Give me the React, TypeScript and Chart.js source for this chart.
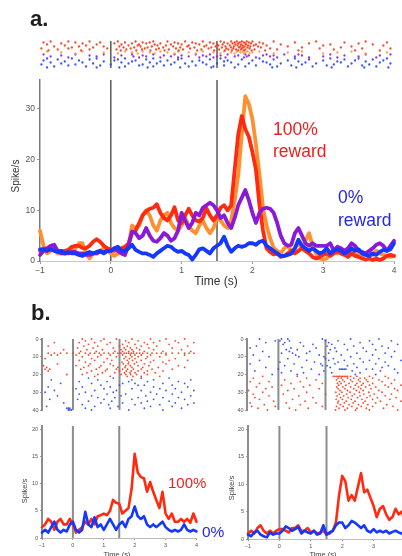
import React, { useEffect, useRef } from "react";
import { Chart, registerables } from "chart.js";

Chart.register(...registerables);

const FONT = "'Liberation Sans', Arial, Helvetica, sans-serif";

// ---------- ticks / events ----------
const X_TICKS = [-1, 0, 1, 2, 3, 4];
const A_Y_TICKS = [0, 10, 20, 30];
const B_Y_TICKS = [0, 5, 10, 15, 20];
const R_Y_TICKS = [0, 10, 20, 30, 40];
const EVENTS = [0, 1.5];

// ---------- panel a: PSTH (0.05 s bins) ----------
const TIMES_A = [
  -1, -0.95, -0.9, -0.85, -0.8, -0.75, -0.7, -0.65, -0.6, -0.55, -0.5, -0.45, -0.4, -0.35, -0.3, -0.25, -0.2, -0.15, -0.1, -0.05,
  0, 0.05, 0.1, 0.15, 0.2, 0.25, 0.3, 0.35, 0.4, 0.45, 0.5, 0.55, 0.6, 0.65, 0.7, 0.75, 0.8, 0.85, 0.9, 0.95,
  1, 1.05, 1.1, 1.15, 1.2, 1.25, 1.3, 1.35, 1.4, 1.45, 1.5, 1.55, 1.6, 1.65, 1.7, 1.75, 1.8, 1.85, 1.9, 1.95,
  2, 2.05, 2.1, 2.15, 2.2, 2.25, 2.3, 2.35, 2.4, 2.45, 2.5, 2.55, 2.6, 2.65, 2.7, 2.75, 2.8, 2.85, 2.9, 2.95,
  3, 3.05, 3.1, 3.15, 3.2, 3.25, 3.3, 3.35, 3.4, 3.45, 3.5, 3.55, 3.6, 3.65, 3.7, 3.75, 3.8, 3.85, 3.9, 3.95,
  4,
];
const A_RED = [
  2, 2.5, 2, 2.5, 2.5, 2, 1.8, 2, 2.2, 2.8, 3, 3, 2.6, 2.5, 3, 3.8, 4.3, 3.8, 3, 2.5,
  2.2, 2, 2.3, 2.5, 2.8, 3.5, 5.5, 6, 7.5, 9, 9.8, 10.3, 10.5, 11.2, 9.5, 8.5, 8, 9, 10.6, 8,
  7.5, 9, 10.3, 9, 8, 7.8, 8.5, 10.4, 9, 8, 9, 10.5, 11, 10, 11, 18, 25, 28.6, 26, 24.5,
  21.5, 18, 11, 6, 2.5, 1.8, 1.3, 1.5, 0.8, 1, 1.5, 2, 1.5, 2, 2.5, 2, 1.5, 0.8, 0.5, 0.8,
  1.2, 1.5, 1, 1.5, 2, 1.5, 1.2, 0.8, 1.5, 1, 0.8, 0.5, 0.3, 0.5, 0.2, 0.5, 0.2, 0.5, 1, 1.2,
  1,
];
const A_ORANGE = [
  6, 3, 1.5, 2, 2.5, 1.5, 1.5, 1.5, 2, 2.5, 2.5, 3.5, 3.5, 1.5, 0.5, 1.5, 1.5, 2, 2.5, 2,
  1.5, 1, 1.5, 2, 2.5, 3, 7, 6.5, 7, 9, 10, 9, 7, 6, 8, 9, 9.5, 7.5, 6.5, 6,
  7, 8.5, 7, 6, 5.5, 7, 8, 6.5, 5.5, 6.5, 8.5, 8, 7, 6.5, 8, 12, 17, 25, 32.5, 31,
  28, 23, 17, 10.5, 7, 4.5, 2.6, 2, 1.5, 2.5, 3, 2, 2.5, 3.5, 2.5, 4, 5.5, 3, 1.5, 0.5,
  0.3, 0.5, 1.5, 2, 1.5, 2.5, 2, 1.5, 1.8, 1.2, 1.5, 1, 1.5, 1.8, 1.2, 2, 1.5, 1.2, 1, 0.8,
  1,
];
const A_PURPLE = [
  1.2, 2, 2.5, 3, 3.2, 2, 1.5, 1.5, 1.5, 1.8, 1.8, 1.5, 1.5, 1.2, 1.2, 1.5, 1.5, 1.8, 1.8, 2,
  2, 2.5, 2, 1.5, 1.2, 3, 5.8, 5.5, 4.5, 5, 6.5, 5, 4, 3.8, 4.5, 5.5, 5, 4, 4.5, 6,
  9.5, 8, 6.5, 7.5, 9.5, 9, 10.5, 11, 11.5, 11, 10, 8.5, 9, 7.5, 6.5, 8.5, 11, 12.5, 14, 12,
  9.5, 7.5, 9.5, 10.3, 10.5, 10.3, 9.5, 7.5, 5, 3.5, 3, 3.2, 5.5, 6.5, 5, 3.5, 3, 3.5, 3, 3,
  3, 3, 3.5, 2, 2.8, 2.5, 2, 2.5, 3.5, 3, 2, 1.8, 1.5, 2, 2.5, 3.2, 3.5, 3, 2, 3,
  4,
];
const A_BLUE = [
  2.3, 2.2, 2, 2.3, 2, 1.8, 2, 1.5, 1.8, 1.5, 1.5, 1.2, 1, 1.5, 1.8, 1.5, 1.8, 2, 1.5, 2,
  2, 2.5, 2.8, 2, 2, 2.5, 3.2, 2.2, 1.8, 1.5, 1.5, 1.2, 0.8, 1.5, 2, 2.5, 3, 2.8, 2.2, 1.8,
  2, 1.5, 1.2, 0.3, 1.2, 2.3, 2.5, 2, 1.5, 2.5, 3, 3.5, 4.8, 3, 1.8, 2.5, 3, 2.8, 3, 3.5,
  3.5, 3.2, 3.8, 4, 3, 2.5, 2, 1.5, 1, 1, 1.2, 1.5, 2.5, 4.2, 3, 2.5, 2, 2.5, 2, 1.5,
  1.8, 2.5, 1.5, 2, 2.3, 2, 1.5, 1.8, 2.5, 2, 2.3, 1.5, 1.2, 1, 1.5, 1.2, 1.8, 2.2, 2, 2.3,
  3.5,
];

// ---------- panel a: raster (spike times per trial) ----------
const A_RASTER_RED = [
  [-0.85, -0.6, -0.3, 0.1, 0.35, 0.6, 0.8, 1.05, 1.3, 1.55, 1.7, 1.78, 1.85, 1.92, 2.0, 2.3, 2.9, 3.6],
  [-0.95, -0.5, -0.15, 0.2, 0.45, 0.55, 0.9, 1.15, 1.4, 1.6, 1.75, 1.82, 1.88, 1.95, 2.1, 2.6, 3.3, 3.9],
  [-0.7, -0.4, 0.05, 0.3, 0.5, 0.7, 0.95, 1.2, 1.45, 1.65, 1.72, 1.8, 1.9, 1.98, 2.15, 2.8, 3.5],
  [-0.9, -0.2, 0.15, 0.4, 0.62, 0.85, 1.0, 1.25, 1.5, 1.58, 1.76, 1.84, 1.91, 2.05, 2.4, 3.1, 3.7],
  [-0.65, -0.35, 0.25, 0.38, 0.66, 0.78, 1.1, 1.35, 1.52, 1.68, 1.79, 1.86, 1.94, 2.02, 2.2, 3.0, 3.85],
  [-0.8, -0.45, -0.1, 0.12, 0.42, 0.58, 0.88, 1.08, 1.32, 1.48, 1.62, 1.74, 1.83, 1.89, 1.97, 2.08, 2.5, 3.4],
  [-0.55, -0.25, 0.18, 0.33, 0.52, 0.74, 0.98, 1.18, 1.42, 1.57, 1.7, 1.81, 1.87, 1.93, 2.12, 2.7, 3.25],
  [-0.98, -0.6, -0.05, 0.28, 0.48, 0.68, 0.92, 1.12, 1.38, 1.63, 1.73, 1.85, 1.96, 2.25, 2.95, 3.55, 3.95],
  [-0.75, -0.3, 0.08, 0.22, 0.44, 0.64, 0.82, 1.02, 1.28, 1.53, 1.66, 1.77, 1.84, 1.9, 2.03, 2.35, 3.15],
  [-0.88, -0.42, 0.14, 0.36, 0.56, 0.76, 0.96, 1.22, 1.46, 1.61, 1.71, 1.8, 1.88, 1.99, 2.18, 2.65, 3.45, 3.8],
];
const A_RASTER_ORANGE = [
  [-0.9, -0.4, 0.2, 0.45, 0.7, 0.95, 1.3, 1.6, 1.78, 1.86, 1.93, 2.1, 2.7, 3.4],
  [-0.7, -0.1, 0.3, 0.55, 0.8, 1.1, 1.45, 1.7, 1.83, 1.9, 2.0, 2.5, 3.2, 3.9],
  [-0.5, 0.1, 0.38, 0.62, 0.9, 1.2, 1.55, 1.75, 1.88, 1.96, 2.3, 3.0, 3.6],
];
const A_RASTER_PURPLE = [
  [-0.95, -0.5, -0.1, 0.3, 0.6, 0.9, 1.2, 1.4, 1.65, 1.9, 2.2, 2.45, 2.65, 3.1, 3.6, 3.95],
  [-0.7, -0.3, 0.15, 0.45, 0.75, 1.0, 1.3, 1.55, 1.8, 1.95, 2.15, 2.3, 2.7, 3.3, 3.8],
  [-0.85, -0.2, 0.32, 0.5, 0.85, 1.1, 1.35, 1.5, 1.75, 1.92, 2.25, 2.6, 3.0, 3.5],
  [-0.6, 0.05, 0.4, 0.7, 0.95, 1.25, 1.45, 1.62, 1.88, 2.05, 2.35, 2.8, 3.2, 3.75],
];
const A_RASTER_BLUE = [
  [-0.9, -0.55, -0.2, 0.2, 0.6, 1.0, 1.55, 2.1, 2.6, 3.1, 3.5, 3.9],
  [-0.75, -0.3, 0.1, 0.5, 0.95, 1.4, 1.85, 2.3, 2.8, 3.3, 3.7],
  [-0.95, -0.45, 0.05, 0.35, 0.8, 1.25, 1.65, 2.0, 2.5, 3.0, 3.45, 3.85],
  [-0.65, -0.1, 0.3, 0.7, 1.15, 1.6, 2.15, 2.65, 3.2, 3.6],
  [-0.85, -0.4, 0.15, 0.55, 0.9, 1.3, 1.7, 2.2, 2.75, 3.25, 3.8],
  [-0.7, -0.25, 0.25, 0.65, 1.05, 1.5, 1.95, 2.4, 2.9, 3.4, 3.95],
  [-0.98, -0.5, 0.0, 0.45, 0.85, 1.35, 1.8, 2.25, 2.7, 3.15, 3.65],
  [-0.6, -0.15, 0.4, 0.75, 1.2, 1.6, 2.05, 2.55, 3.05, 3.55],
  [-0.8, -0.35, 0.2, 0.6, 1.1, 1.45, 1.9, 2.35, 2.85, 3.35, 3.75],
  [-0.9, -0.2, 0.12, 0.52, 0.98, 1.42, 1.75, 2.28, 2.62, 3.12, 3.58, 3.92],
];

// ---------- panel b: PSTH (0.1 s bins) ----------
const TIMES_B = [
  -1, -0.9, -0.8, -0.7, -0.6, -0.5, -0.4, -0.3, -0.2, -0.1,
  0, 0.1, 0.2, 0.3, 0.4, 0.5, 0.6, 0.7, 0.8, 0.9,
  1, 1.1, 1.2, 1.3, 1.4, 1.5, 1.6, 1.7, 1.8, 1.9,
  2, 2.1, 2.2, 2.3, 2.4, 2.5, 2.6, 2.7, 2.8, 2.9,
  3, 3.1, 3.2, 3.3, 3.4, 3.5, 3.6, 3.7, 3.8, 3.9,
  4,
];
const BL_RED = [
  2, 2.5, 3.5, 3, 1.5, 3, 3.5, 2.5, 2.5, 3.5,
  2.5, 1, 1.5, 2, 3, 2.5, 3.5, 2.5, 4, 4.2,
  4.5, 4.2, 5, 7, 6.5, 6.3, 4.5, 5, 5.5, 9,
  15.5, 12, 11.2, 11, 8.5, 10.3, 8.5, 7, 5.5, 8.5,
  4.5, 3.5, 4.5, 3, 3, 3.5, 3, 3.5, 2.8, 4.5,
  3,
];
const BL_BLUE = [
  1, 1.5, 1, 2, 3, 1.5, 1, 1.5, 1.2, 2.5,
  3, 1.5, 1, 1.5, 4.8, 2.5, 2, 3.8, 2, 2.5,
  1.5, 2.5, 3.5, 2.5, 1.5, 2.5, 3, 2, 3.5, 4,
  5.8, 4, 3.5, 4, 2.5, 2, 2.5, 2, 2.5, 3,
  2, 1.5, 1.2, 1.5, 1.2, 1.5, 2.5, 1.5, 1.2, 1.5,
  1.2,
];
const BR_RED = [
  1, 1.5, 1, 2, 2.5, 1.5, 1, 1.5, 1, 1.5,
  1.8, 1.8, 1.5, 1.2, 2, 2, 2.5, 1.5, 1.5, 2,
  1.2, 1.5, 1, 1.2, 1.5, 0.8, 1, 1.5, 3, 8,
  11.5, 10.5, 7, 8, 7, 9.5, 12, 8.5, 9, 7.5,
  6, 4, 5.5, 6, 4.5, 3.5, 4, 5.5, 4.5, 5,
  3,
];
const BR_BLUE = [
  0.8, 0.5, 1.2, 1.5, 0.8, 0.5, 0.3, 1.2, 0.8, 1,
  1, 1.5, 2.3, 2, 1.5, 1.8, 2.2, 1, 1.5, 1.2,
  1, 1.5, 0.8, 1, 2.5, 0.8, 1.2, 1.5, 2.5, 3,
  3, 2, 2.5, 3.3, 3, 2.5, 2, 2.5, 1.5, 1.2,
  1.8, 1.2, 1.5, 1.2, 1.5, 1, 1.3, 1.5, 1.2, 1,
  0.5,
];

// ---------- panel b: rasters ----------
const BL_RASTER_RED = [
  [0.3, 0.6, 1.0, 1.4, 1.9, 2.5, 3.0, 3.6],
  [0.4, 0.9, 1.7, 2.1, 2.8, 3.3],
  [-0.6, 0.2, 0.7, 1.2, 1.8, 2.3, 2.6, 3.4, 3.9],
  [0.5, 1.1, 1.6, 2.0, 2.4, 3.1],
  [-0.8, 0.35, 0.8, 1.5, 1.75, 2.2, 2.7, 3.7],
  [0.15, 0.65, 1.3, 1.65, 1.85, 2.05, 2.45, 3.2],
  [-0.3, 0.45, 0.95, 1.55, 1.7, 1.9, 2.15, 2.6, 3.5],
  [0.25, 0.75, 1.35, 1.6, 1.8, 1.95, 2.3, 2.9, 3.8],
  [-0.8, -0.6, -0.4, -0.2, 0.0, 0.2, 0.4, 0.55, 0.7, 0.85, 1.0, 1.15, 1.3, 1.45, 1.55, 1.65, 1.72, 1.8, 1.88, 1.95, 2.05, 2.15, 2.25, 2.4, 2.55, 2.7, 2.85, 3.0, 3.2, 3.4, 3.6, 3.75, 3.9],
  [-0.7, -0.5, 0.1, 0.5, 0.9, 1.2, 1.6, 1.85, 2.0, 2.2, 2.5, 3.0, 3.6],
  [0.3, 0.8, 1.4, 1.7, 1.9, 2.1, 2.4, 2.8],
  [-0.9, 0.6, 1.1, 1.65, 1.82, 2.0, 2.35, 3.3],
  [0.2, 0.7, 1.25, 1.75, 1.92, 2.2, 2.6, 3.1, 3.7],
  [0.4, 1.0, 1.58, 1.8, 2.05, 2.5, 2.9],
  [-0.5, 0.55, 1.2, 1.62, 1.78, 1.98, 2.3, 3.0],
  [-0.95, 0.1, 0.5, 0.9, 1.3, 1.7, 1.85, 2.1, 2.45, 3.4],
  [-0.85, 0.35, 0.85, 1.45, 1.68, 1.9, 2.25, 2.75, 3.6],
  [-0.9, -0.75, 0.25, 0.75, 1.1, 1.4, 1.6, 1.76, 1.95, 2.2, 2.55, 3.2],
  [-0.8, 0.6, 1.05, 1.5, 1.72, 1.88, 2.1, 2.4, 2.9],
  [0.45, 0.95, 1.35, 1.66, 1.84, 2.0, 2.3, 2.65],
  [-0.2, 0.3, 0.8, 1.55, 1.7, 1.86, 2.05, 2.4],
  [0.7, 1.2, 1.75, 1.93, 2.2, 2.8],
];
const BL_RASTER_BLUE = [
  [0.5, 1.3, 2.2, 3.1],
  [-0.7, 0.8, 1.9, 2.6, 3.8],
  [0.2, 1.1, 1.8, 2.4, 3.4],
  [-0.4, 0.6, 1.6, 2.0, 2.9, 3.6],
  [0.9, 1.5, 2.1, 2.3, 3.2],
  [-0.8, 0.3, 1.2, 2.6, 3.7],
  [0.1, 1.0, 1.9, 2.8, 3.3],
  [-0.6, 0.7, 1.4, 2.2, 3.0, 3.9],
  [-0.9, 0.4, 1.3, 2.5, 3.5],
  [0.2, 1.1, 1.7, 2.7, 3.2],
  [-0.5, 0.6, 1.55, 2.35, 3.8],
  [0.8, 1.35, 2.1, 2.9, 3.4],
  [-0.75, 0.15, 1.0, 1.9, 2.6, 3.6],
  [0.5, 1.25, 2.4, 3.1],
  [-0.3, 0.9, 1.6, 2.2, 3.3, 3.9],
  [0.3, 1.15, 2.0, 2.8, 3.7],
  [-0.85, 0.7, 1.45, 2.5, 3.2],
  [-0.2, -0.15, -0.1, 0.4, 1.2, 2.3, 3.5],
  [-0.15, -0.1, -0.05, 0.6, 1.8, 2.9],
];
const BR_RASTER_BLUE = [
  [-0.6, 0.1, 0.3, 1.4, 2.3, 3.2],
  [-0.1, 0.05, 0.35, 1.5, 1.9, 2.9, 3.6],
  [-0.4, 0.2, 0.7, 1.6, 2.6],
  [0.15, 1.1, 1.7, 2.1, 3.0, 3.8],
  [-0.7, 0.8, 1.55, 2.4, 3.3],
  [-0.9, 0.4, 1.2, 1.8, 2.7, 3.5],
  [0.25, 0.6, 1.65, 2.2, 3.1],
  [-0.5, 0.35, 1.0, 1.85, 2.8, 3.7],
  [0.1, 0.45, 0.9, 1.6, 2.5, 3.4],
  [-0.8, 0.55, 1.3, 2.0, 3.0],
  [-0.3, 0.65, 1.45, 2.3, 3.6],
  [0.3, 1.5, 1.75, 2.6, 3.2],
  [-0.6, 0.9, 1.6, 2.1, 2.9, 3.9],
  [0.05, 1.15, 1.9, 2.7, 3.4],
  [-0.9, 0.5, 1.35, 1.8, 2.4, 3.1],
  [0.2, 1.4, 1.55, 2.2, 3.5],
  [-0.4, 0.75, 1.65, 2.5, 3.3],
  [0.0, 1.05, 1.95, 2.0, 2.05, 2.1, 2.15, 2.8, 3.0, 3.7],
  [-0.75, 0.4, 1.45, 2.35, 3.25],
  [0.1, 0.8, 1.7, 2.6, 3.8],
  [-0.2, 0.6, 1.3, 2.45, 3.1],
];
const BR_RASTER_RED = [
  [-0.5, 0.6, 1.75, 1.8, 1.85, 1.9, 1.95, 2.0, 2.05, 2.1, 2.15, 2.2, 2.3, 2.5, 2.9, 3.4],
  [-0.8, 0.9, 1.9, 2.0, 2.2, 2.4, 2.6, 2.75, 3.0, 3.5],
  [0.2, 1.2, 1.85, 2.05, 2.3, 2.55, 2.8, 3.2, 3.7],
  [-0.9, -0.3, 0.7, 1.95, 2.1, 2.35, 2.6, 2.85, 3.3],
  [-0.6, 0.4, 1.4, 1.88, 2.0, 2.25, 2.5, 2.7, 3.0, 3.6],
  [0.1, 1.0, 1.92, 2.15, 2.45, 2.65, 2.9, 3.4, 3.9],
  [-0.7, -0.2, 0.8, 1.86, 2.05, 2.3, 2.55, 2.78, 3.1, 3.5],
  [-0.4, 0.5, 1.3, 1.9, 2.12, 2.4, 2.62, 2.95, 3.7],
  [-0.95, 0.3, 1.96, 2.2, 2.48, 2.7, 3.2, 3.8],
  [-0.5, 0.9, 1.83, 2.02, 2.28, 2.58, 2.88, 3.3],
  [-0.8, 0.15, 1.5, 1.94, 2.18, 2.42, 2.72, 3.05, 3.6],
  [-0.3, 0.65, 1.87, 2.08, 2.35, 2.6, 2.92, 3.4],
  [-0.75, 1.1, 1.98, 2.22, 2.52, 2.82, 3.15, 3.75],
  [-0.6, 0.45, 1.84, 2.04, 2.32, 2.66, 3.0, 3.55],
  [-0.15, 0.85, 1.91, 2.16, 2.44, 2.76, 3.25, 3.9],
  [-0.9, 0.25, 1.2, 1.89, 2.1, 2.38, 2.7, 3.1],
  [-0.45, 0.7, 1.97, 2.25, 2.55, 2.85, 3.45],
  [-0.85, -0.1, 1.4, 1.85, 2.06, 2.34, 2.64, 3.0, 3.65],
  [-0.65, 0.35, 0.95, 1.93, 2.2, 2.5, 2.8, 3.35],
  [-0.35, 0.55, 1.82, 2.12, 2.46, 2.9, 3.8],
];

// ---------- colours ----------
const C_RED = "#ff2a10";
const C_ORANGE = "#ff9030";
const C_PURPLE = "#8a1ad6";
const C_BLUE = "#1438ff";
const D_RED = "rgba(255,60,30,0.95)";
const D_ORANGE = "rgba(255,150,70,0.95)";
const D_PURPLE = "rgba(145,40,220,0.95)";
const D_BLUE = "rgba(45,75,255,0.95)";
const T_RED = "#f02020";
const T_BLUE = "#2626e6";

// ---------- helpers ----------
type Box = { left: number; top: number; width: number; height: number };
type Area = { left: number; top: number; right: number; bottom: number };
type Note = {
  text: string; x: number; y: number; color: string; size: number;
  bold?: boolean; rot?: number; align?: CanvasTextAlign; base?: CanvasTextBaseline;
};

function notesPlugin(notes: Note[], box: Box) {
  return {
    id: "notes",
    afterDraw(chart: any) {
      const ctx = chart.ctx as CanvasRenderingContext2D;
      notes.forEach((n) => {
        ctx.save();
        ctx.font = `${n.bold ? "bold " : ""}${n.size}px ${FONT}`;
        ctx.fillStyle = n.color;
        ctx.textAlign = n.align || "left";
        ctx.textBaseline = n.base || "alphabetic";
        ctx.translate(n.x - box.left, n.y - box.top);
        if (n.rot) ctx.rotate((n.rot * Math.PI) / 180);
        ctx.fillText(n.text, 0, 0);
        ctx.restore();
      });
    },
  };
}

function fmt(v: number) {
  return String(v).replace("-", "\u2212");
}

function scale(kind: "x" | "y", o: {
  min: number; max: number; show: boolean; size: number; ticks?: number[];
  fontSize?: number; reverse?: boolean; borderColor?: string; borderWidth?: number;
  tickLen?: number; pad?: number;
}) {
  return {
    type: "linear",
    min: o.min,
    max: o.max,
    reverse: !!o.reverse,
    display: o.show,
    afterFit: (s: any) => {
      if (!o.show) return;
      if (kind === "x") s.height = o.size;
      else s.width = o.size;
    },
    afterBuildTicks: (s: any) => {
      if (o.ticks) s.ticks = o.ticks.map((v) => ({ value: v }));
    },
    ticks: {
      autoSkip: false,
      maxRotation: 0,
      minRotation: 0,
      padding: o.pad ?? 2,
      color: "#555",
      font: { family: FONT, size: o.fontSize || 8 },
      callback: (v: number) => fmt(v),
    },
    grid: {
      display: true,
      drawOnChartArea: false,
      drawTicks: true,
      tickLength: o.tickLen ?? 3,
      color: "#9a9a9a",
      lineWidth: 1,
    },
    border: { display: o.show, color: o.borderColor || "#8a8a8a", width: o.borderWidth || 1 },
  };
}

function makeConfig(o: {
  box: Box; area: Area; xMin: number; xMax: number; yMin: number; yMax: number;
  reverseY?: boolean; showX: boolean; showY: boolean; xTicks?: number[]; yTicks?: number[];
  tickFont: number; datasets: any[]; notes: Note[]; axisColor: string; axisWidth: number;
  xAxisColor?: string; tickLen?: number; pad?: number;
}) {
  const boxRight = o.box.left + o.box.width;
  const boxBottom = o.box.top + o.box.height;
  const yWidth = o.area.left - o.box.left;
  const xHeight = boxBottom - o.area.bottom;
  return {
    type: "scatter",
    data: { datasets: o.datasets },
    options: {
      responsive: false,
      animation: false,
      events: [],
      layout: {
        padding: {
          left: o.showY ? 0 : yWidth,
          top: o.area.top - o.box.top,
          right: boxRight - o.area.right,
          bottom: o.showX ? 0 : xHeight,
        },
      },
      plugins: { legend: { display: false }, tooltip: { enabled: false }, title: { display: false } },
      scales: {
        x: scale("x", {
          min: o.xMin, max: o.xMax, show: o.showX, size: xHeight, ticks: o.xTicks,
          fontSize: o.tickFont, borderColor: o.xAxisColor || o.axisColor, borderWidth: 1,
          tickLen: o.tickLen, pad: o.pad,
        }),
        y: scale("y", {
          min: o.yMin, max: o.yMax, show: o.showY, size: yWidth, ticks: o.yTicks,
          fontSize: o.tickFont, reverse: o.reverseY, borderColor: o.axisColor,
          borderWidth: o.axisWidth, tickLen: o.tickLen, pad: o.pad,
        }),
      },
    },
    plugins: [notesPlugin(o.notes, o.box)],
  };
}

function eventLines(yMin: number, yMax: number, color: string, width: number) {
  return EVENTS.map((t) => ({
    showLine: true,
    data: [{ x: t, y: yMin }, { x: t, y: yMax }],
    borderColor: color,
    borderWidth: width,
    pointRadius: 0,
    order: 20,
    clip: false,
  }));
}

function series(times: number[], vals: number[], color: string, width: number, order: number) {
  return {
    showLine: true,
    data: times.map((t, i) => ({ x: t, y: vals[i] })),
    borderColor: color,
    borderWidth: width,
    pointRadius: 0,
    tension: 0,
    borderJoinStyle: "round",
    borderCapStyle: "round",
    order,
    clip: false,
  };
}

function raster(trials: number[][], offset: number, color: string, r: number) {
  const pts: { x: number; y: number }[] = [];
  trials.forEach((row, i) => row.forEach((t) => pts.push({ x: t, y: i + offset })));
  return {
    showLine: false,
    data: pts,
    pointRadius: r,
    pointBorderWidth: 0,
    pointBackgroundColor: color,
    borderColor: color,
    order: 5,
    clip: false,
  };
}

function ChartCanvas({ box, build }: { box: Box; build: () => any }) {
  const ref = useRef<HTMLCanvasElement>(null);
  useEffect(() => {
    const chart = new Chart(ref.current as HTMLCanvasElement, build());
    return () => chart.destroy();
  }, []);
  return (
    <canvas
      ref={ref}
      width={box.width}
      height={box.height}
      style={{ position: "absolute", left: box.left, top: box.top, width: box.width, height: box.height }}
    />
  );
}

// ---------- layout boxes ----------
const BOX_RA: Box = { left: 0, top: 0, width: 402, height: 72 };
const AREA_RA: Area = { left: 40, top: 41, right: 394, bottom: 69 };
const BOX_PA: Box = { left: 0, top: 72, width: 402, height: 228 };
const AREA_PA: Area = { left: 40, top: 80, right: 394, bottom: 261 };
const BOX_RBL: Box = { left: 0, top: 300, width: 205, height: 118 };
const AREA_RBL: Area = { left: 42, top: 339, right: 197, bottom: 410 };
const BOX_RBR: Box = { left: 205, top: 329, width: 225, height: 89 };
const AREA_RBR: Area = { left: 247, top: 339, right: 404, bottom: 410 };
const BOX_PBL: Box = { left: 0, top: 418, width: 200, height: 152 };
const AREA_PBL: Area = { left: 42, top: 426, right: 198, bottom: 538 };
const BOX_PBR: Box = { left: 200, top: 418, width: 230, height: 152 };
const AREA_PBR: Area = { left: 248, top: 426, right: 405, bottom: 539 };

const A_YMAX = 35.7;
const B_YMAX = 20.6;

function buildRasterA() {
  return makeConfig({
    box: BOX_RA, area: AREA_RA, xMin: -1, xMax: 4, yMin: -0.5, yMax: 26.5, reverseY: true,
    showX: false, showY: false, tickFont: 8, axisColor: "#888", axisWidth: 1,
    datasets: [
      ...eventLines(-0.5, 26.5, "#5a5a5a", 1.5),
      raster(A_RASTER_RED, 0, D_RED, 1.15),
      raster(A_RASTER_ORANGE, 10, D_ORANGE, 1.15),
      raster(A_RASTER_PURPLE, 13, D_PURPLE, 1.15),
      raster(A_RASTER_BLUE, 17, D_BLUE, 1.15),
    ],
    notes: [{ text: "a.", x: 30, y: 26, size: 22, bold: true, color: "#1e1e1e" }],
  });
}

function buildPsthA() {
  return makeConfig({
    box: BOX_PA, area: AREA_PA, xMin: -1, xMax: 4, yMin: 0, yMax: A_YMAX,
    showX: true, showY: true, xTicks: X_TICKS, yTicks: A_Y_TICKS, tickFont: 8.5,
    axisColor: "#7a7a7a", axisWidth: 1.5, xAxisColor: "#c8c8c8", tickLen: 3, pad: 2,
    datasets: [
      ...eventLines(0, A_YMAX, "#5a5a5a", 1.5),
      series(TIMES_A, A_ORANGE, C_ORANGE, 3.8, 4),
      series(TIMES_A, A_RED, C_RED, 3.8, 3),
      series(TIMES_A, A_PURPLE, C_PURPLE, 3.8, 2),
      series(TIMES_A, A_BLUE, C_BLUE, 3.8, 1),
    ],
    notes: [
      { text: "Spike/s", x: 16, y: 176, size: 10, color: "#333", rot: -90, align: "center", base: "middle" },
      { text: "Time (s)", x: 216, y: 282, size: 12, color: "#333", align: "center", base: "middle" },
      { text: "100%", x: 273, y: 135, size: 17.5, color: T_RED },
      { text: "reward", x: 273, y: 157, size: 17.5, color: T_RED },
      { text: "0%", x: 338, y: 203, size: 17.5, color: T_BLUE },
      { text: "reward", x: 338, y: 226, size: 17.5, color: T_BLUE },
    ],
  });
}

function buildRasterBL() {
  return makeConfig({
    box: BOX_RBL, area: AREA_RBL, xMin: -1, xMax: 4, yMin: 0, yMax: 40, reverseY: true,
    showX: false, showY: true, yTicks: R_Y_TICKS, tickFont: 5.5, axisColor: "#8c8c8c", axisWidth: 2,
    tickLen: 2, pad: 1.5,
    datasets: [
      ...eventLines(0, 40, "#8c8c8c", 2),
      raster(BL_RASTER_RED, 0, D_RED, 0.9),
      raster(BL_RASTER_BLUE, 22, D_BLUE, 0.9),
    ],
    notes: [{ text: "b.", x: 31, y: 320, size: 22, bold: true, color: "#1e1e1e" }],
  });
}

function buildRasterBR() {
  return makeConfig({
    box: BOX_RBR, area: AREA_RBR, xMin: -1, xMax: 4, yMin: 0, yMax: 40, reverseY: true,
    showX: false, showY: true, yTicks: R_Y_TICKS, tickFont: 5.5, axisColor: "#8c8c8c", axisWidth: 2,
    tickLen: 2, pad: 1.5,
    datasets: [
      ...eventLines(0, 40, "#8c8c8c", 2),
      raster(BR_RASTER_BLUE, 0, D_BLUE, 0.9),
      raster(BR_RASTER_RED, 21, D_RED, 0.9),
    ],
    notes: [],
  });
}

function buildPsthBL() {
  return makeConfig({
    box: BOX_PBL, area: AREA_PBL, xMin: -1, xMax: 4, yMin: 0, yMax: B_YMAX,
    showX: true, showY: true, xTicks: X_TICKS, yTicks: B_Y_TICKS, tickFont: 5.5,
    axisColor: "#8c8c8c", axisWidth: 2, xAxisColor: "#bbbbbb", tickLen: 2, pad: 2,
    datasets: [
      ...eventLines(0, B_YMAX, "#8c8c8c", 2),
      series(TIMES_B, BL_RED, C_RED, 2.6, 2),
      series(TIMES_B, BL_BLUE, C_BLUE, 2.6, 1),
    ],
    notes: [
      { text: "Spike/s", x: 25, y: 491, size: 7.5, color: "#444", rot: -90, align: "center", base: "middle" },
      { text: "Time (s)", x: 117, y: 555, size: 7.5, color: "#444", align: "center", base: "middle" },
    ],
  });
}

function buildPsthBR() {
  return makeConfig({
    box: BOX_PBR, area: AREA_PBR, xMin: -1, xMax: 4, yMin: 0, yMax: B_YMAX,
    showX: true, showY: true, xTicks: X_TICKS, yTicks: B_Y_TICKS, tickFont: 5.5,
    axisColor: "#8c8c8c", axisWidth: 2, xAxisColor: "#bbbbbb", tickLen: 2, pad: 2,
    datasets: [
      ...eventLines(0, B_YMAX, "#8c8c8c", 2),
      series(TIMES_B, BR_RED, C_RED, 2.6, 2),
      series(TIMES_B, BR_BLUE, C_BLUE, 2.6, 1),
    ],
    notes: [
      { text: "Spike/s", x: 232, y: 488, size: 7.5, color: "#444", rot: -90, align: "center", base: "middle" },
      { text: "Time (s)", x: 323, y: 555, size: 7.5, color: "#444", align: "center", base: "middle" },
    ],
  });
}

// Overlay canvas for panel b annotations that straddle both PSTHs
const BOX_NOTES_B: Box = { left: 150, top: 460, width: 90, height: 90 };
function buildNotesB() {
  return {
    type: "scatter",
    data: { datasets: [] },
    options: {
      responsive: false,
      animation: false,
      events: [],
      plugins: { legend: { display: false }, tooltip: { enabled: false } },
      scales: { x: { display: false }, y: { display: false } },
    },
    plugins: [
      notesPlugin(
        [
          { text: "100%", x: 168, y: 488, size: 15, color: T_RED },
          { text: "0%", x: 202, y: 537, size: 15.5, color: T_BLUE },
        ],
        BOX_NOTES_B
      ),
    ],
  };
}

export default function App() {
  return (
    <div
      style={{
        position: "absolute",
        left: 0,
        top: 0,
        width: 402,
        height: 556,
        overflow: "hidden",
        background: "#ffffff",
      }}
    >
      <ChartCanvas box={BOX_RA} build={buildRasterA} />
      <ChartCanvas box={BOX_PA} build={buildPsthA} />
      <ChartCanvas box={BOX_RBL} build={buildRasterBL} />
      <ChartCanvas box={BOX_RBR} build={buildRasterBR} />
      <ChartCanvas box={BOX_PBL} build={buildPsthBL} />
      <ChartCanvas box={BOX_PBR} build={buildPsthBR} />
      <ChartCanvas box={BOX_NOTES_B} build={buildNotesB} />
    </div>
  );
}
